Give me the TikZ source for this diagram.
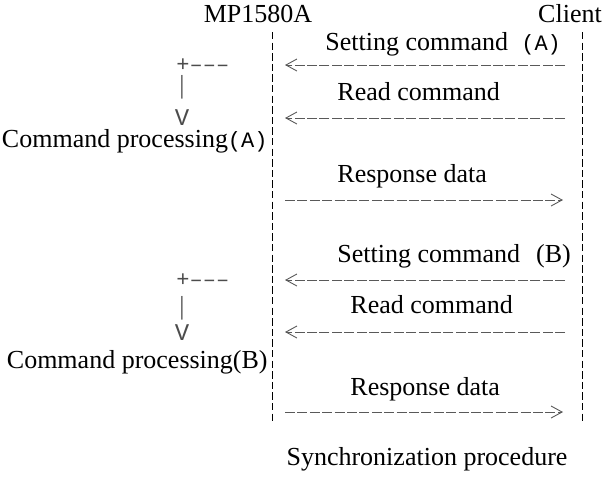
\documentclass[tikz,border=0pt]{standalone}
\usepackage{fontspec}
\setmainfont{Liberation Serif}
\newfontfamily\monofont{Liberation Mono}
\usepackage{tikz}
\usetikzlibrary{arrows.meta,positioning,calc}
\newcommand\monotag[1]{{\monofont\fontsize{11}{13}\selectfont#1}}
\tikzset{
  lbl/.style={inner sep=0pt, font=\fontsize{13}{15}\selectfont},
  art/.style={inner sep=0pt, font=\fontsize{11}{13}\selectfont\monofont, text=black!70},
  bar/.style={inner sep=0pt, font=\fontsize{13}{15}\selectfont, text=black!70},
  life/.style={line width=0.5pt, dash pattern=on 3.7pt off 1.6pt},
  msg/.style={line width=0.45pt, draw=black!65, dash pattern=on 5pt off 1.2pt,
              -{Straight Barb[length=5.5pt,width=6pt]}},
}

\begin{document}
\begin{tikzpicture}[x=0.5pt, y=-0.5pt]
\useasboundingbox (0,0) rectangle (608,484);
% parties and lifelines
\node[lbl, anchor=base] (mp) at (258,22) {MP1580A};
\node[lbl, anchor=base] (cl) at (570,22) {Client};
\coordinate (mpT) at (272,32);
\coordinate (mpB) at (272,423);
\coordinate (clT) at (582,32);
\coordinate (clB) at (582,422);
\draw[life] (mpT) -- (mpB);
\draw[life] (clT) -- (clB);
% first exchange
\coordinate (setAl) at (285,65);  \coordinate (setAr) at (565,65);
\coordinate (readAl) at (285,118); \coordinate (readAr) at (565,118);
\coordinate (respAl) at (285,200); \coordinate (respAr) at (563,200);
\draw[msg] (setAr) -- (setAl);
\draw[msg] (readAr) -- (readAl);
\draw[msg] (respAl) -- (respAr);
\node[lbl, anchor=base west] (setA) at (325,50) {Setting command\monotag{ (A)}};
\node[lbl, anchor=base west] (readA) at (337,100) {Read command};
\node[lbl, anchor=base west] (respA) at (337,182) {Response data};
\node[lbl, anchor=base east] (procA) at (268,147) {Command processing\monotag{(A)}};
\node[art, anchor=base west] (plusA) at (176,71) {+–––};
\node[bar, anchor=base] (barA) at (182,93) {|};
\node[art, anchor=base, font=\fontsize{12}{14}\selectfont\monofont] (vA) at (182,125) {V};
% second exchange
\coordinate (setBl) at (285,280);  \coordinate (setBr) at (565,280);
\coordinate (readBl) at (285,332); \coordinate (readBr) at (565,332);
\coordinate (respBl) at (285,412); \coordinate (respBr) at (563,412);
\draw[msg] (setBr) -- (setBl);
\draw[msg] (readBr) -- (readBl);
\draw[msg] (respBl) -- (respBr);
\node[lbl, anchor=base west] (setB) at (337,262) {Setting command\hspace{8pt}(B)};
\node[lbl, anchor=base west] (readB) at (350,313) {Read command};
\node[lbl, anchor=base west] (respB) at (350,395) {Response data};
\node[lbl, anchor=base east] (procB) at (268,368) {Command processing(B)};
\node[art, anchor=base west] (plusB) at (176,286) {+–––};
\node[bar, anchor=base] (barB) at (182,314) {|};
\node[art, anchor=base, font=\fontsize{12}{14}\selectfont\monofont] (vB) at (182,340) {V};
% caption
\node[lbl, anchor=base] (sync) at (427,465) {Synchronization procedure};
\end{tikzpicture}
\end{document}
